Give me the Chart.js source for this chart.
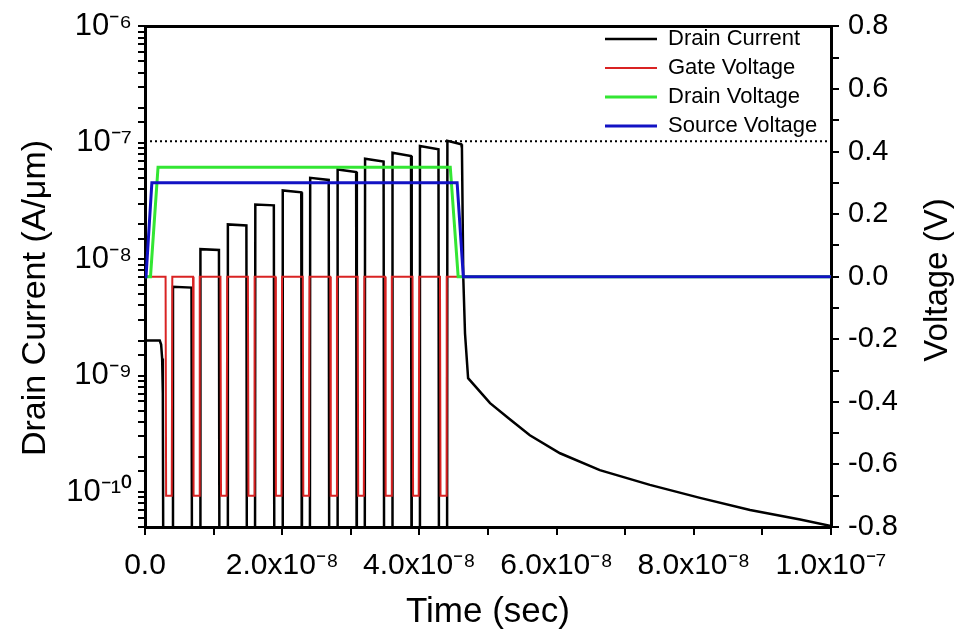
<!DOCTYPE html>
<html>
<head>
<meta charset="utf-8">
<script src="https://cdn.jsdelivr.net/npm/chart.js@4.4.1/dist/chart.umd.min.js"></script>
<style>
  body { margin: 0; background: #fff; }
  #grafico { display: block; }
</style>
</head>
<body>
<canvas id="grafico" width="964" height="643"></canvas>
<script>
// Tiempo en ns (el eje se rotula en segundos)
const tiempoCorriente = [
  0, 2.15, 2.35, 2.5, 2.6, 2.72,
  4.02, 4.08, 6.78, 6.88,
  8.02, 8.08, 10.78, 10.88,
  12.02, 12.08, 14.78, 14.88,
  16.02, 16.08, 18.78, 18.88,
  20.02, 20.08, 22.78, 22.88,
  24.02, 24.08, 26.78, 26.88,
  28.02, 28.08, 30.78, 30.88,
  32.02, 32.08, 34.78, 34.88,
  36.02, 36.08, 38.78, 38.88,
  40.02, 40.08, 42.78, 42.88,
  44.02, 44.08, 46.1, 46.2, 46.4, 46.65, 47.1,
  50.3, 53.0, 56.1, 60.5, 66.3, 73.6, 80.9, 88.2, 95.5, 100
];
// Corriente de drenaje (A/um); 1e-12 = fuera del eje (abajo)
const corrienteDrenaje = [
  2.0e-9, 2.0e-9, 1.85e-9, 1.4e-9, 7e-10, 1e-12,
  1e-12, 5.8e-9, 5.7e-9, 1e-12,
  1e-12, 1.22e-8, 1.2e-8, 1e-12,
  1e-12, 1.99e-8, 1.95e-8, 1e-12,
  1e-12, 2.95e-8, 2.9e-8, 1e-12,
  1e-12, 3.9e-8, 3.75e-8, 1e-12,
  1e-12, 5.0e-8, 4.8e-8, 1e-12,
  1e-12, 5.9e-8, 5.6e-8, 1e-12,
  1e-12, 7.3e-8, 6.9e-8, 1e-12,
  1e-12, 8.2e-8, 7.7e-8, 1e-12,
  1e-12, 9.4e-8, 8.8e-8, 1e-12,
  1e-12, 1.04e-7, 9.7e-8, 9.0e-8, 6.9e-9, 2.3e-9, 9.5e-10,
  5.8e-10, 4.3e-10, 3.07e-10, 2.15e-10, 1.54e-10, 1.15e-10, 8.9e-11, 7.0e-11, 5.8e-11, 5.1e-11
];

// Voltaje de compuerta (V)
const tiempoCompuerta = [
  0,
  3.0, 3.08, 3.9, 3.98,
  7.0, 7.08, 7.9, 7.98,
  11.0, 11.08, 11.9, 11.98,
  15.0, 15.08, 15.9, 15.98,
  19.0, 19.08, 19.9, 19.98,
  23.0, 23.08, 23.9, 23.98,
  27.0, 27.08, 27.9, 27.98,
  31.0, 31.08, 31.9, 31.98,
  35.0, 35.08, 35.9, 35.98,
  39.0, 39.08, 39.9, 39.98,
  43.0, 43.08, 43.9, 43.98,
  100
];
const voltajeCompuerta = [
  0,
  0, -0.7, -0.7, 0,
  0, -0.7, -0.7, 0,
  0, -0.7, -0.7, 0,
  0, -0.7, -0.7, 0,
  0, -0.7, -0.7, 0,
  0, -0.7, -0.7, 0,
  0, -0.7, -0.7, 0,
  0, -0.7, -0.7, 0,
  0, -0.7, -0.7, 0,
  0, -0.7, -0.7, 0,
  0, -0.7, -0.7, 0,
  0
];

// Voltaje de drenaje y de fuente (V)
const tiempoDrenaje = [0, 0.8, 1.9, 44.5, 45.65, 100];
const voltajeDrenaje = [0, 0, 0.35, 0.35, 0, 0];
const tiempoFuente = [0, 0.15, 1.0, 45.5, 46.4, 100];
const voltajeFuente = [0, 0, 0.3, 0.3, 0, 0];

// Linea punteada en el pico
const tiempoPico = [0, 100];
const nivelPico = [1.03e-7, 1.03e-7];

// Etiquetas de los ejes
const valoresTiempo = [0, 20, 40, 60, 80, 100];
const etiquetasTiempo = ["0.0", "2.0x10⁻⁸", "4.0x10⁻⁸", "6.0x10⁻⁸", "8.0x10⁻⁸", "1.0x10⁻⁷"];
const decadas = [1e-10, 1e-9, 1e-8, 1e-7, 1e-6];
const etiquetasDecadas = ["10⁻¹⁰", "10⁻⁹", "10⁻⁸", "10⁻⁷", "10⁻⁶"];
const valoresVoltaje = [-0.8, -0.6, -0.4, -0.2, 0, 0.2, 0.4, 0.6, 0.8];
const etiquetasVoltaje = ["-0.8", "-0.6", "-0.4", "-0.2", "0.0", "0.2", "0.4", "0.6", "0.8"];

const FUENTE = '"Liberation Sans", Arial, sans-serif';

function puntos(xs, ys) {
  return xs.map((x, i) => ({ x: x, y: ys[i] }));
}

function buscarEtiqueta(valor, valores, etiquetas, relativo) {
  const i = valores.findIndex((v) =>
    relativo ? Math.abs(valor / v - 1) < 1e-6 : Math.abs(valor - v) < 1e-6
  );
  return i >= 0 ? etiquetas[i] : "";
}

// Mueve la leyenda a la esquina superior derecha y dibuja titulos verticales
const ajustesPlugin = {
  id: "ajustes",
  afterLayout(chart) {
    const leyenda = chart.legend;
    leyenda.left = 598;
    leyenda.top = 21;
    leyenda.right = leyenda.left + leyenda.width;
  },
  afterDraw(chart) {
    const ctx = chart.ctx;
    ctx.save();
    ctx.fillStyle = "#000";
    ctx.textAlign = "center";
    ctx.textBaseline = "middle";
    ctx.save();
    ctx.font = "34px " + FUENTE;
    ctx.translate(36, 298);
    ctx.rotate(-Math.PI / 2);
    ctx.fillText("Drain Current (A/μm)", 0, 0);
    ctx.restore();
    ctx.font = "33px " + FUENTE;
    ctx.translate(938, 280);
    ctx.rotate(-Math.PI / 2);
    ctx.fillText("Voltage (V)", 0, 0);
    ctx.restore();
  },
};

const ejeNegro = { display: true, color: "#000", width: 3 };
const marcas = { drawOnChartArea: false, color: "#000", lineWidth: 2 };

new Chart(document.getElementById("grafico").getContext("2d"), {
  type: "line",
  data: {
    datasets: [
      {
        label: "Drain Current",
        data: puntos(tiempoCorriente, corrienteDrenaje),
        borderColor: "#000",
        backgroundColor: "#000",
        borderWidth: 2.5,
        yAxisID: "y",
        order: 4,
      },
      {
        label: "Gate Voltage",
        data: puntos(tiempoCompuerta, voltajeCompuerta),
        borderColor: "#d92323",
        backgroundColor: "#d92323",
        borderWidth: 2,
        yAxisID: "y2",
        order: 3,
      },
      {
        label: "Drain Voltage",
        data: puntos(tiempoDrenaje, voltajeDrenaje),
        borderColor: "#33e633",
        backgroundColor: "#33e633",
        borderWidth: 3,
        yAxisID: "y2",
        order: 2,
      },
      {
        label: "Source Voltage",
        data: puntos(tiempoFuente, voltajeFuente),
        borderColor: "#1212c4",
        backgroundColor: "#1212c4",
        borderWidth: 3,
        yAxisID: "y2",
        order: 1,
      },
      {
        label: "pico",
        data: puntos(tiempoPico, nivelPico),
        borderColor: "#000",
        borderWidth: 2,
        borderDash: [2, 3],
        yAxisID: "y",
        order: 5,
      },
    ],
  },
  options: {
    responsive: false,
    animation: false,
    layout: { padding: 0 },
    elements: { point: { radius: 0 }, line: { tension: 0 } },
    plugins: {
      tooltip: { enabled: false },
      legend: {
        position: "chartArea",
        align: "start",
        labels: {
          usePointStyle: true,
          pointStyle: "line",
          pointStyleWidth: 52,
          padding: 7,
          color: "#000",
          font: { family: FUENTE, size: 22 },
          filter: (item) => item.text !== "pico",
          sort: (a, b) => a.datasetIndex - b.datasetIndex,
        },
      },
    },
    scales: {
      x: {
        type: "linear",
        position: "bottom",
        min: 0,
        max: 100,
        border: ejeNegro,
        grid: { ...marcas, tickLength: 8 },
        ticks: {
          stepSize: 10,
          autoSkip: false,
          maxRotation: 0,
          padding: 13,
          color: "#000",
          font: { family: FUENTE, size: 30 },
          callback: (v) => buscarEtiqueta(v, valoresTiempo, etiquetasTiempo, false),
        },
        title: {
          display: true,
          text: "Time (sec)",
          color: "#000",
          font: { family: FUENTE, size: 35 },
          padding: { top: 0, bottom: 10 },
        },
        afterFit: (s) => { s.height = 116; },
      },
      xTop: {
        type: "linear",
        position: "top",
        min: 0,
        max: 100,
        border: ejeNegro,
        grid: { display: false },
        ticks: { display: false },
        afterFit: (s) => { s.height = 24; },
      },
      y: {
        type: "logarithmic",
        position: "left",
        min: 5e-11,
        max: 1e-6,
        border: ejeNegro,
        grid: { ...marcas, tickLength: 7 },
        ticks: {
          autoSkip: false,
          padding: 6,
          color: "#000",
          font: { family: FUENTE, size: 31 },
          callback: (v) => buscarEtiqueta(v, decadas, etiquetasDecadas, true),
        },
        afterFit: (s) => { s.width = 145; },
      },
      y2: {
        type: "linear",
        position: "right",
        min: -0.8,
        max: 0.8,
        border: ejeNegro,
        grid: { ...marcas, tickLength: 8 },
        ticks: {
          stepSize: 0.1,
          autoSkip: false,
          padding: 9,
          color: "#000",
          font: { family: FUENTE, size: 29 },
          callback: (v) => buscarEtiqueta(v, valoresVoltaje, etiquetasVoltaje, false),
        },
        afterFit: (s) => { s.width = 133; },
      },
    },
  },
  plugins: [ajustesPlugin],
});
</script>
</body>
</html>
